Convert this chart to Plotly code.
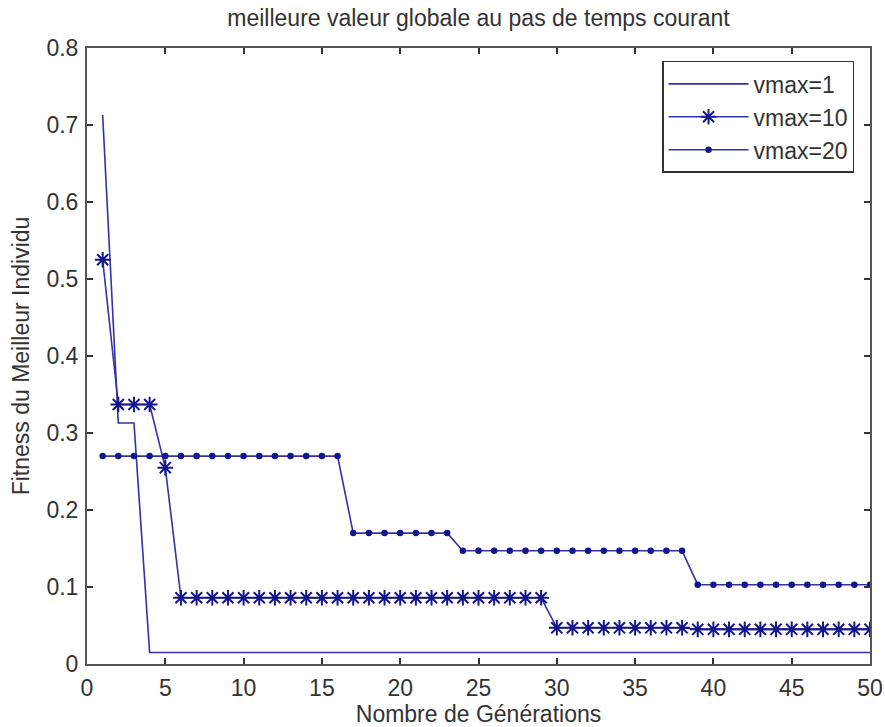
import plotly.graph_objects as go

# Generations 1..50
generations = list(range(1, 51))

# Best fitness per generation for each vmax setting
fit_vmax1 = [0.713, 0.313, 0.313] + [0.015] * 47
fit_vmax10 = [0.525, 0.337, 0.337, 0.337, 0.255] + [0.086] * 24 + [0.047] * 9 + [0.045] * 12
fit_vmax20 = [0.270] * 16 + [0.170] * 7 + [0.147] * 15 + [0.103] * 12

x_ticks = [0, 5, 10, 15, 20, 25, 30, 35, 40, 45, 50]
y_ticks = [0, 0.1, 0.2, 0.3, 0.4, 0.5, 0.6, 0.7, 0.8]
y_tick_text = ["0", "0.1", "0.2", "0.3", "0.4", "0.5", "0.6", "0.7", "0.8"]

line_col = "rgb(50,50,170)"
mark_col = "rgb(20,20,140)"
font = "Liberation Sans, Arial, sans-serif"
txt_col = "#333333"
fs = 23

fig = go.Figure()
fig.add_trace(go.Scatter(
    x=generations, y=fit_vmax1, mode="lines", name="vmax=1",
    line=dict(color=line_col, width=1.6),
))
fig.add_trace(go.Scatter(
    x=generations, y=fit_vmax10, mode="lines+markers", name="vmax=10",
    line=dict(color=line_col, width=1.6),
    marker=dict(symbol="asterisk-open", size=13, color=mark_col,
                line=dict(color=mark_col, width=2)),
))
fig.add_trace(go.Scatter(
    x=generations, y=fit_vmax20, mode="lines+markers", name="vmax=20",
    line=dict(color=line_col, width=1.6),
    marker=dict(symbol="circle", size=6.5, color=mark_col),
))

axis_common = dict(
    showgrid=False, zeroline=False, showline=True, mirror="ticks",
    linecolor="#555555", linewidth=2, ticks="inside", ticklen=6,
    tickwidth=1.5, tickcolor="#333333", automargin=False,
    tickfont=dict(family=font, size=fs, color=txt_col),
)

fig.update_layout(
    width=885, height=727,
    margin=dict(l=87, r=15, t=48, b=63),
    paper_bgcolor="white", plot_bgcolor="white",
    font=dict(family=font, color=txt_col),
    title=dict(text="meilleure valeur globale au pas de temps courant",
               x=0.5, xanchor="center", y=0.975, yanchor="middle",
               xref="paper", automargin=False,
               font=dict(family=font, size=fs, color=txt_col)),
    xaxis=dict(range=[0, 50], tickvals=x_ticks, ticklabelstandoff=2,
               title=dict(text="Nombre de Générations", standoff=2,
                          font=dict(family=font, size=fs, color=txt_col)),
               **axis_common),
    yaxis=dict(range=[0, 0.8], tickvals=y_ticks, ticktext=y_tick_text,
               ticklabelstandoff=2,
               title=dict(text="Fitness du Meilleur Individu", standoff=10,
                          font=dict(family=font, size=fs, color=txt_col)),
               **axis_common),
    showlegend=True,
    legend=dict(x=0.9796, y=0.979, xanchor="right", yanchor="top",
                bgcolor="white", bordercolor="#333333", borderwidth=1.5,
                font=dict(family=font, size=fs, color=txt_col),
                tracegroupgap=0, itemwidth=80),
)

fig.write_html("out.html")
